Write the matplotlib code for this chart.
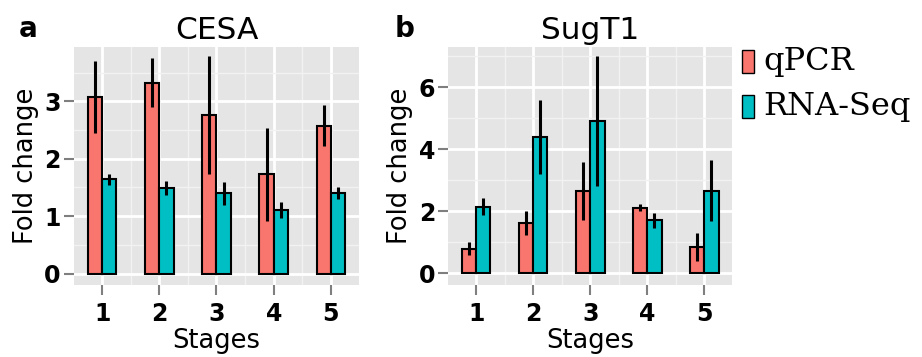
import numpy as np
import matplotlib
matplotlib.use("Agg")
import matplotlib.pyplot as plt
from matplotlib.patches import Rectangle

stages = [1, 2, 3, 4, 5]
series = ["qPCR", "RNA-Seq"]
colors = ["#F8766D", "#00BFC4"]

cesa_qpcr = [3.08, 3.33, 2.77, 1.73, 2.58]
cesa_qpcr_err = [0.63, 0.43, 1.03, 0.81, 0.35]
cesa_rna = [1.64, 1.49, 1.40, 1.10, 1.40]
cesa_rna_err = [0.10, 0.12, 0.20, 0.14, 0.10]

sugt1_qpcr = [0.80, 1.63, 2.66, 2.12, 0.86]
sugt1_qpcr_err = [0.22, 0.39, 0.93, 0.11, 0.45]
sugt1_rna = [2.15, 4.39, 4.91, 1.71, 2.66]
sugt1_rna_err = [0.28, 1.19, 2.10, 0.24, 0.98]

fig = plt.figure(figsize=(9.22, 3.57), dpi=100)
fig.patch.set_facecolor("white")

panels = [
    dict(rect=[0.0803, 0.2017, 0.309, 0.6667], title="CESA", tag="a", tagx=0.020,
         vals=(cesa_qpcr, cesa_rna), errs=(cesa_qpcr_err, cesa_rna_err),
         ylim=(-0.2, 3.95), major=[0, 1, 2, 3], minor=[0.5, 1.5, 2.5, 3.5]),
    dict(rect=[0.4862, 0.2017, 0.308, 0.6667], title="SugT1", tag="b", tagx=0.428,
         vals=(sugt1_qpcr, sugt1_rna), errs=(sugt1_qpcr_err, sugt1_rna_err),
         ylim=(-0.376, 7.30), major=[0, 2, 4, 6], minor=[1, 3, 5, 7]),
]

x = np.array(stages, float)
w = 0.25
for p in panels:
    ax = fig.add_axes(p["rect"])
    ax.set_facecolor("#E5E5E5")
    for s in ax.spines.values():
        s.set_visible(False)
    ax.set_xlim(0.51, 5.49)
    ax.set_ylim(*p["ylim"])
    ax.set_xticks(stages)
    ax.set_xticks(x[:-1] + 0.5, minor=True)
    ax.set_yticks(p["major"])
    ax.set_yticks(p["minor"], minor=True)
    ax.grid(True, which="major", color="white", lw=2.0)
    ax.grid(True, which="minor", color="#F2F2F2", lw=1.0)
    ax.set_axisbelow(True)
    for i, (v, e) in enumerate(zip(p["vals"], p["errs"])):
        xs = x + (i - 0.5) * w
        ax.bar(xs, v, width=w, color=colors[i], edgecolor="black", lw=1.5, zorder=2)
        ax.errorbar(xs, v, yerr=e, fmt="none", ecolor="black", elinewidth=2.2,
                    capsize=0, zorder=3)
    ax.tick_params(axis="both", which="major", length=7.5, width=1.5, color="#7F7F7F")
    ax.tick_params(axis="both", which="minor", length=0)
    ax.tick_params(axis="y", labelsize=17, pad=2)
    ax.tick_params(axis="x", labelsize=17, pad=5)
    for lab in ax.get_xticklabels() + ax.get_yticklabels():
        lab.set_fontweight("bold")
    ax.set_xlabel("Stages", fontsize=18.5, labelpad=1)
    ax.set_ylabel("Fold change", fontsize=18.5, labelpad=4)
    ax.set_title(p["title"], fontsize=22.5, pad=6)
    fig.text(p["tagx"], 0.895, p["tag"], fontsize=20, fontweight="bold", va="baseline")

# legend
key_w, key_h = 12 / 922, 23 / 357
for i, (name, c) in enumerate(zip(series, colors)):
    yc = 1 - (61.5 + 45 * i) / 357
    fig.add_artist(Rectangle((742 / 922, yc - key_h / 2), key_w, key_h, transform=fig.transFigure,
                             facecolor=c, edgecolor="black", lw=1.0))
    fig.text(763 / 922, yc, name, fontsize=23, family="DejaVu Serif", va="center", ha="left")

fig.savefig("out.png", dpi=100)
